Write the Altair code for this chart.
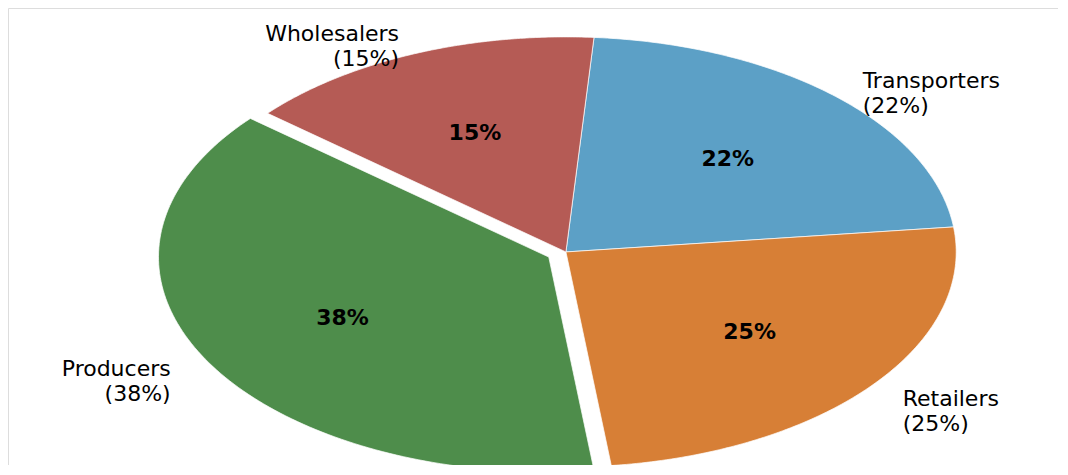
import json
import altair as alt
import pandas as pd

# ---- data ----
categories = ["Transporters", "Retailers", "Producers", "Wholesalers"]
shares = [22, 25, 38, 15]
exploded = ["Producers"]
colors = ["#5CA0C6", "#D77F36", "#4E8D4B", "#B55B55"]

df = pd.DataFrame({"category": categories, "value": shares})

N = 120            # samples along each arc
START = 0.072      # start angle (radians, clockwise from 12 o'clock)
EXPLODE = 0.05
TWO_PI = "6.283185307179586"

xdom = [-1.4297, 1.2609]
ydom = [-0.9907, 1.1343]

cats_js = json.dumps(categories)
expl_js = json.dumps(exploded)

base = (
    alt.Chart(df)
    .transform_calculate(idx=f"indexof({cats_js}, datum.category)")
    .transform_joinaggregate(total="sum(value)")
    .transform_window(cum="sum(value)", sort=[alt.SortField("idx")], frame=[None, 0])
    .transform_calculate(
        a0=f"{START} + {TWO_PI}*(datum.cum - datum.value)/datum.total",
        a1=f"{START} + {TWO_PI}*datum.cum/datum.total",
    )
    .transform_calculate(
        mid="(datum.a0 + datum.a1)/2",
        ex=f"indexof({expl_js}, datum.category) >= 0 ? {EXPLODE} : 0",
    )
    .transform_calculate(
        ox="datum.ex*sin(datum.mid)",
        oy="datum.ex*cos(datum.mid)",
        pct="format(datum.value/datum.total*100, '.0f') + '%'",
    )
)

xs = alt.Scale(domain=xdom, nice=False, zero=False)
ys = alt.Scale(domain=ydom, nice=False, zero=False)
cscale = alt.Scale(domain=categories, range=colors)

wedges = (
    base.transform_calculate(s=f"sequence(0, {N + 3})")
    .transform_flatten(["s"])
    .transform_calculate(
        t=f"clamp((datum.s - 1)/{N}, 0, 1)",
        isc=f"datum.s == 0 || datum.s == {N + 2}",
    )
    .transform_calculate(a="datum.a0 + (datum.a1 - datum.a0)*datum.t")
    .transform_calculate(
        px="datum.ox + (datum.isc ? 0 : sin(datum.a))",
        py="datum.oy + (datum.isc ? 0 : cos(datum.a))",
    )
    .mark_line(filled=True, stroke="white", strokeWidth=1, strokeOpacity=0.7)
    .encode(
        x=alt.X("px:Q", scale=xs, axis=None),
        y=alt.Y("py:Q", scale=ys, axis=None),
        order=alt.Order("s:Q"),
        detail="category:N",
        color=alt.Color("category:N", scale=cscale, legend=None),
    )
)

pct_labels = (
    base.transform_calculate(
        px="datum.ox + 0.6*sin(datum.mid)",
        py="datum.oy + 0.6*cos(datum.mid)",
    )
    .mark_text(font="DejaVu Sans", fontSize=22, fontWeight="bold", color="black",
               align="center", baseline="middle")
    .encode(
        x=alt.X("px:Q", scale=xs, axis=None),
        y=alt.Y("py:Q", scale=ys, axis=None),
        text="pct:N",
    )
)

outer = base.transform_calculate(
    px="datum.ox + 1.1*sin(datum.mid)",
    py="datum.oy + 1.1*cos(datum.mid)",
    lab="datum.category + '\\n(' + datum.pct + ')'",
    side="sin(datum.mid) >= 0 ? 1 : 0",
)

def outer_layer(side, align):
    return (
        outer.transform_filter(f"datum.side == {side}")
        .mark_text(font="DejaVu Sans", fontSize=22, color="black", align=align,
                   baseline="middle", lineBreak="\n", lineHeight=25)
        .encode(
            x=alt.X("px:Q", scale=xs, axis=None),
            y=alt.Y("py:Q", scale=ys, axis=None),
            text="lab:N",
        )
    )

chart = (
    alt.layer(wedges, pct_labels, outer_layer(1, "left"), outer_layer(0, "right"))
    .properties(width=1050, height=457, padding=0,
                autosize=alt.AutoSizeParams(type="none"))
    .configure_view(stroke="transparent", strokeWidth=0)
    .configure(background="transparent")
)

chart.save("out.html", embed_options={"renderer": "svg", "actions": False})
